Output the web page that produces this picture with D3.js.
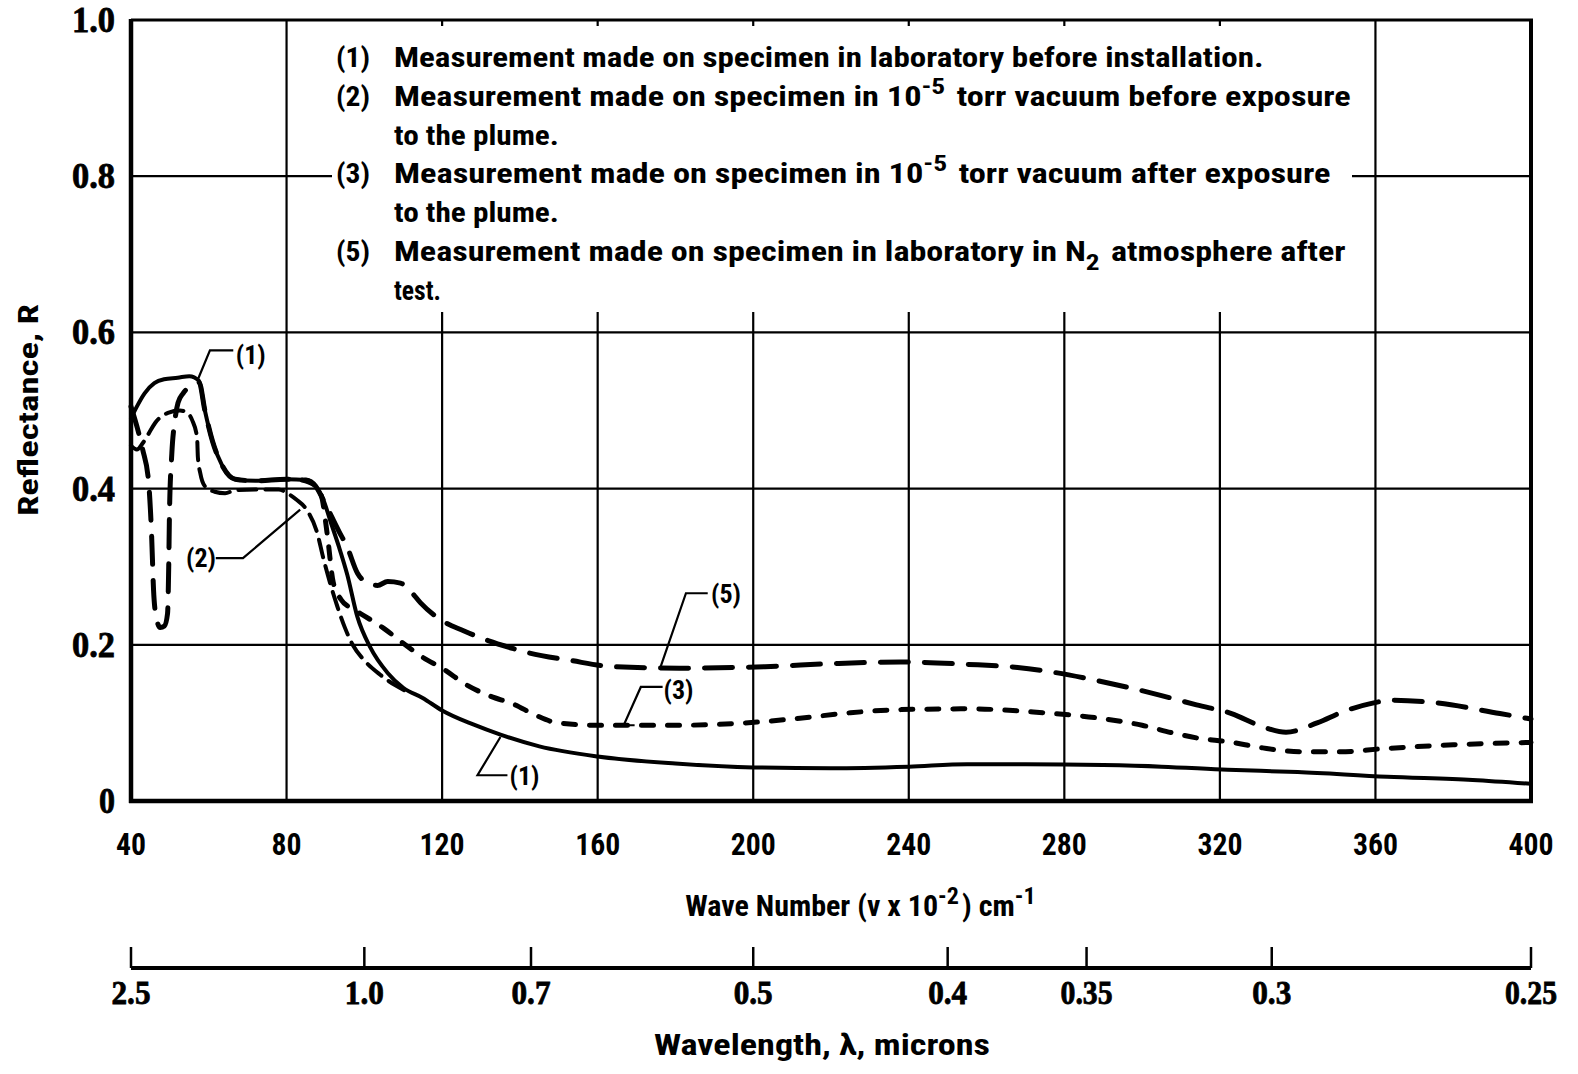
<!DOCTYPE html>
<html lang="en">
<head>
<meta charset="UTF-8">
<title>Reflectance vs wave number</title>
<script src="https://d3js.org/d3.v7.min.js"></script>
<style>
  body { margin: 0; background: #fff; }
  svg text { font-family: "Liberation Sans Narrow", "Roboto Condensed", "DejaVu Sans Condensed", "Liberation Sans", sans-serif; font-weight: bold; fill: #000; }
  svg text.num { font-family: "Liberation Serif", "DejaVu Serif", serif; stroke: #000; stroke-width: 0.8px; }
</style>
</head>
<body>
<svg id="chart" width="1578" height="1074"></svg>
<script>
// axis ticks
var waveTicks = [40, 80, 120, 160, 200, 240, 280, 320, 360, 400];
var reflTicks = [0, 0.2, 0.4, 0.6, 0.8, 1.0];
var reflTickLabels = ["0", "0.2", "0.4", "0.6", "0.8", "1.0"];
var lambdaTicks = [2.5, 1.0, 0.7, 0.5, 0.4, 0.35, 0.3, 0.25];
var lambdaTickLabels = ["2.5", "1.0", "0.7", "0.5", "0.4", "0.35", "0.3", "0.25"];

// curve (1) - lab, before installation (solid)
var nu1 = [40, 41.5, 43.5, 46, 48.5, 52, 55, 57.5, 59, 61, 63.4, 66.8, 72, 80, 85, 87.5, 89.5, 91.5, 93.5, 95.6, 98.2, 101.5, 106, 110, 115, 120, 128, 135, 145, 160, 180, 200, 220, 240, 255, 270, 290, 305, 322, 340, 363, 385, 400];
var r1 = [0.49, 0.505, 0.522, 0.535, 0.54, 0.542, 0.544, 0.538, 0.5, 0.46, 0.43, 0.412, 0.41, 0.412, 0.411, 0.403, 0.385, 0.355, 0.325, 0.29, 0.236, 0.197, 0.164, 0.145, 0.132, 0.116, 0.098, 0.085, 0.07, 0.057, 0.048, 0.043, 0.042, 0.044, 0.047, 0.047, 0.046, 0.044, 0.04, 0.037, 0.031, 0.027, 0.022];

// curve (2) - vacuum, before exposure
var nu2 = [40, 41.5, 43, 44.5, 46.2, 49.5, 52.6, 54.5, 55.7, 57, 57.2, 57.8, 59, 61.5, 64.2, 66.8, 72, 78, 80.2, 82.5, 85.3, 87.9, 89.4, 91.2, 93, 95, 97, 100, 104, 108, 111];
var r2 = [0.455, 0.45, 0.458, 0.47, 0.484, 0.497, 0.5, 0.497, 0.488, 0.465, 0.44, 0.42, 0.403, 0.396, 0.394, 0.398, 0.399, 0.399, 0.394, 0.386, 0.372, 0.343, 0.312, 0.279, 0.25, 0.222, 0.2, 0.18, 0.162, 0.148, 0.14];

// curve (3) - vacuum, after exposure
var nu3 = [84, 87.5, 89, 90.5, 92, 94, 97, 99, 105, 110, 115, 120, 126.5, 132.5, 138.4, 144, 149.7, 160, 181, 201, 212, 225, 238, 255, 272, 289, 300, 308, 315, 322, 331, 341, 351, 362, 380, 400];
var r3 = [0.411, 0.403, 0.39, 0.34, 0.28, 0.258, 0.246, 0.24, 0.221, 0.202, 0.184, 0.17, 0.148, 0.134, 0.124, 0.11, 0.1, 0.097, 0.097, 0.101, 0.106, 0.113, 0.117, 0.118, 0.114, 0.106, 0.097, 0.087, 0.08, 0.076, 0.068, 0.063, 0.063, 0.067, 0.072, 0.075];

// curve (5) - lab, N2 atmosphere, after test
var nu5 = [40, 41.5, 43, 44.5, 45.3, 45.8, 46.5, 47.5, 48.6, 49.4, 49.7, 49.9, 50.5, 51.3, 52.1, 53.4, 55.7, 57.5, 59, 61, 63.4, 66.8, 72, 80, 85, 87.5, 89.5, 91.5, 93.5, 95.6, 98.2, 100.5, 103.4, 106, 109.3, 112, 114.4, 120.3, 125.5, 132, 138.4, 142, 153, 164, 181, 203, 221, 238, 255, 268, 277, 289.5, 305, 314, 323, 331, 337, 345, 352, 359, 364, 375, 392, 400];
var r5 = [0.505, 0.48, 0.45, 0.41, 0.34, 0.27, 0.235, 0.222, 0.224, 0.24, 0.3, 0.37, 0.445, 0.488, 0.51, 0.522, 0.532, 0.536, 0.5, 0.46, 0.43, 0.412, 0.41, 0.412, 0.411, 0.403, 0.385, 0.365, 0.345, 0.325, 0.292, 0.28, 0.276, 0.281, 0.279, 0.268, 0.254, 0.23, 0.218, 0.205, 0.195, 0.19, 0.18, 0.172, 0.17, 0.172, 0.176, 0.178, 0.175, 0.171, 0.165, 0.153, 0.135, 0.123, 0.112, 0.095, 0.088, 0.1, 0.115, 0.125, 0.129, 0.126, 0.112, 0.105];

var legendNums = ["(1)", "(2)", "", "(3)", "", "(5)", ""];
var legendTexts = [
  "Measurement made on specimen in laboratory before installation.",
  "Measurement made on specimen in 10^{-5} torr vacuum before exposure",
  "to the plume.",
  "Measurement made on specimen in 10^{-5} torr vacuum after exposure",
  "to the plume.",
  "Measurement made on specimen in laboratory in N_{2} atmosphere after",
  "test."
];

var width = 1578, height = 1074;
var svg = d3.select("#chart");

var x = d3.scaleLinear().domain([40, 400]).range([131, 1531]);
var y = d3.scaleLinear().domain([0, 1]).range([801, 20]);

// grid
var grid = svg.append("g").attr("stroke", "#000").attr("stroke-width", 2.2);
grid.selectAll(".vg").data(waveTicks.slice(1, -1)).enter().append("line")
  .attr("x1", d => x(d)).attr("x2", d => x(d))
  .attr("y1", y(1)).attr("y2", y(0));
grid.selectAll(".hg").data(reflTicks.slice(1, -1)).enter().append("line")
  .attr("x1", x(40)).attr("x2", x(400))
  .attr("y1", d => y(d)).attr("y2", d => y(d));

// legend box covers grid
svg.append("rect").attr("x", 332).attr("y", 26).attr("width", 1020).attr("height", 286).attr("fill", "#fff");

// frame
svg.append("line").attr("x1", x(40)).attr("x2", x(40)).attr("y1", y(1) - 1).attr("y2", y(0) + 2).attr("stroke", "#000").attr("stroke-width", 4.5);
svg.append("line").attr("x1", x(40) - 2).attr("x2", x(400) + 2).attr("y1", y(0)).attr("y2", y(0)).attr("stroke", "#000").attr("stroke-width", 4.5);
svg.append("line").attr("x1", x(40)).attr("x2", x(400) + 2).attr("y1", y(1)).attr("y2", y(1)).attr("stroke", "#000").attr("stroke-width", 3);
svg.append("line").attr("x1", x(400)).attr("x2", x(400)).attr("y1", y(1)).attr("y2", y(0)).attr("stroke", "#000").attr("stroke-width", 4);

// curves
var line = d3.line().x(d => x(d[0])).y(d => y(d[1])).curve(d3.curveMonotoneX);
function drawCurve(nu, r, dash, w) {
  svg.append("path")
    .attr("d", line(d3.zip(nu, r)))
    .attr("fill", "none").attr("stroke", "#000")
    .attr("stroke-width", w)
    .attr("stroke-linecap", "round")
    .attr("stroke-dasharray", dash);
}
drawCurve(nu2, r2, "18,9", 4);
drawCurve(nu3, r3, "12,14", 5);
drawCurve(nu5, r5, "28,16", 5);
drawCurve(nu1, r1, null, 4);

// curve labels with leader lines (data coordinates)
var leaders = [
  {t: "(1)", at: [70.8, 0.571], pts: [[66.3, 0.577], [60.3, 0.577], [57.3, 0.541]]},
  {t: "(2)", at: [58, 0.311], pts: [[61.8, 0.311], [68.8, 0.311], [83.5, 0.373]]},
  {t: "(5)", at: [193, 0.265], pts: [[188.3, 0.266], [182.7, 0.266], [176.2, 0.172]]},
  {t: "(3)", at: [180.8, 0.142], pts: [[176.7, 0.146], [171.1, 0.146], [166.7, 0.097], [164.1, 0.097], [169.5, 0.097]]},
  {t: "(1)", at: [141.2, 0.032], pts: [[136.8, 0.033], [129.1, 0.033], [135, 0.082]]}
];
var lead = d3.line().x(d => x(d[0])).y(d => y(d[1]));
leaders.forEach(function(l) {
  svg.append("path").attr("d", lead(l.pts)).attr("fill", "none").attr("stroke", "#000").attr("stroke-width", 2.2);
  svg.append("text").attr("x", x(l.at[0])).attr("y", y(l.at[1]) + 9)
    .attr("text-anchor", "middle").attr("font-size", 26).text(l.t);
});

// legend
function addRich(sel, s, size) {
  var parts = s.split(/(\^\{[^}]*\}|_\{[^}]*\})/);
  parts.forEach(function(p) {
    if (!p) return;
    if (p[0] === "^") {
      sel.append("tspan").attr("dy", -12).attr("font-size", size * 0.8).text(p.slice(2, -1));
      sel.append("tspan").attr("dy", 12).text("\u200a");
    } else if (p[0] === "_") {
      sel.append("tspan").attr("dy", 9).attr("font-size", size * 0.8).text(p.slice(2, -1));
      sel.append("tspan").attr("dy", -9).text("\u200a");
    } else {
      sel.append("tspan").text(p);
    }
  });
}
var legendY = [67, 106, 145, 183, 222, 261, 300];
var legendW = [870, 957, 165, 937, 165, 952, 47];
legendTexts.forEach(function(s, i) {
  if (legendNums[i]) {
    svg.append("text").attr("x", 336).attr("y", legendY[i]).attr("font-size", 27)
      .attr("textLength", 34).attr("lengthAdjust", "spacingAndGlyphs").text(legendNums[i]);
  }
  var g = svg.append("g");
  var t = g.append("text").attr("x", 0).attr("y", 0).attr("font-size", 28);
  addRich(t, s, 28);
  var w = t.node().getComputedTextLength();
  g.attr("transform", "translate(394," + legendY[i] + ") scale(" + (legendW[i] / w) + ",1)");
});

// y tick labels
svg.selectAll(".yl").data(reflTicks).enter().append("text")
  .attr("class", "num")
  .attr("x", 115).attr("y", d => y(d) + 12)
  .attr("text-anchor", "end").attr("font-size", 36)
  .attr("textLength", (d, i) => reflTickLabels[i].length > 1 ? 43 : 16)
  .attr("lengthAdjust", "spacingAndGlyphs")
  .text((d, i) => reflTickLabels[i]);

// x tick labels
svg.selectAll(".xl").data(waveTicks).enter().append("text")
  .attr("x", d => x(d)).attr("y", 855)
  .attr("text-anchor", "middle").attr("font-size", 32)
  .attr("textLength", d => String(d).length * 15)
  .attr("lengthAdjust", "spacingAndGlyphs")
  .text(d => d);

// x title
var xt = svg.append("text").attr("x", 862).attr("y", 916).attr("text-anchor", "middle").attr("font-size", 30);
addRich(xt, "Wave Number (\u03bd x 10^{-2}) cm^{-1}", 30);

// y title
svg.append("text").attr("transform", "translate(38,410) rotate(-90)")
  .attr("text-anchor", "middle").attr("font-size", 28)
  .attr("textLength", 212).attr("lengthAdjust", "spacingAndGlyphs")
  .text("Reflectance, R");

// wavelength axis (lambda = 100 / wave number)
var ax = svg.append("g");
ax.append("line").attr("x1", x(40)).attr("x2", x(400)).attr("y1", 968).attr("y2", 968).attr("stroke", "#000").attr("stroke-width", 4);
ax.selectAll(".lt").data(lambdaTicks).enter().append("line")
  .attr("x1", d => x(100 / d)).attr("x2", d => x(100 / d))
  .attr("y1", 968).attr("y2", 947).attr("stroke", "#000").attr("stroke-width", 2.5);
ax.selectAll(".ll").data(lambdaTicks).enter().append("text")
  .attr("class", "num")
  .attr("x", d => x(100 / d)).attr("y", 1004)
  .attr("text-anchor", "middle").attr("font-size", 33)
  .attr("textLength", (d, i) => lambdaTickLabels[i].length * 13)
  .attr("lengthAdjust", "spacingAndGlyphs")
  .text((d, i) => lambdaTickLabels[i]);

svg.append("text").attr("x", 822).attr("y", 1055).attr("text-anchor", "middle").attr("font-size", 30)
  .attr("textLength", 336).attr("lengthAdjust", "spacingAndGlyphs")
  .text("Wavelength, \u03bb, microns");
</script>
</body>
</html>
